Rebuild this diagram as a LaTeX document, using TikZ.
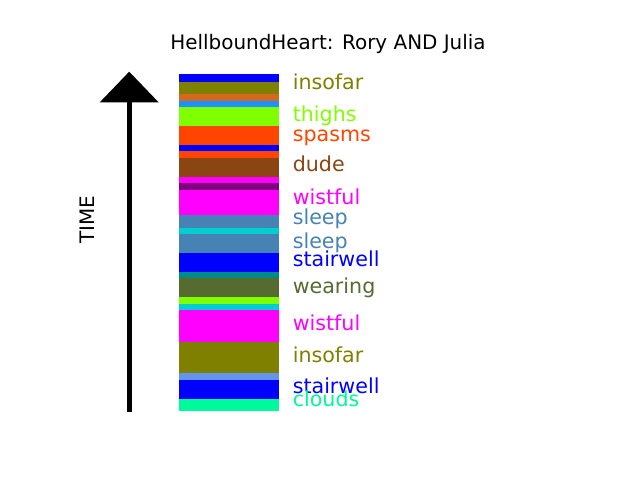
\documentclass[tikz,border=0pt]{standalone}
\usepackage{fontspec}
\setmainfont{DejaVu Sans}
\usepackage{tikz}
\usetikzlibrary{arrows.meta}
\usepackage{xcolor}
\definecolor{mblue}{HTML}{0000FF}
\definecolor{molive}{HTML}{808000}
\definecolor{mchoc}{HTML}{D2691E}
\definecolor{mdodger}{HTML}{1E90FF}
\definecolor{mchart}{HTML}{7FFF00}
\definecolor{morange}{HTML}{FF4500}
\definecolor{mbrown}{HTML}{8B4513}
\definecolor{mmagenta}{HTML}{FF00FF}
\definecolor{mpurple}{HTML}{800080}
\definecolor{msteel}{HTML}{4682B4}
\definecolor{mturq}{HTML}{00CED1}
\definecolor{mcyan}{HTML}{008B8B}
\definecolor{mdolive}{HTML}{556B2F}
\definecolor{mcorn}{HTML}{6495ED}
\definecolor{mspring}{HTML}{00FA9A}

\begin{document}
\begin{tikzpicture}[x=0.01in, y=-0.01in,
    every node/.style={inner sep=0pt, font=\fontsize{14.4}{17}\selectfont},
    lbl/.style={anchor=base west, font=\fontsize{14.9}{17}\selectfont},
    arr/.style={-{Triangle[width=15mm, length=7.8mm, line width=0pt]},
        line width=1.27mm, black}
]
    \useasboundingbox (0,0) rectangle (640,480);

    % title and axis label
    \node[anchor=base] (title) at (328,49.5) {HellboundHeart: Rory AND Julia};
    \node[anchor=base, rotate=90] (time) at (94,220) {TIME};

    % time arrow
    \coordinate (tbot) at (129.2,412.3);
    \coordinate (ttop) at (129.2,71.7);
    \draw[arr] (tbot) -- (ttop);

    % stripes, top to bottom
    \foreach \ya/\yb/\c in {74/81.7/mblue, 81.7/93.7/molive, 93.7/100.7/mchoc,
        100.7/107/mdodger, 107/125.7/mchart, 125.7/144.7/morange,
        144.7/151/mblue, 151/158/morange, 158/176.7/mbrown,
        176.7/183/mmagenta, 183/189.7/mpurple, 189.7/214.7/mmagenta,
        214.7/228/msteel, 228/234/mturq, 234/252.7/msteel,
        252.7/271.7/mblue, 271.7/277.7/mcyan, 277.7/297/mdolive,
        297/303.7/mchart, 303.7/309.7/mturq, 309.7/341.7/mmagenta,
        341.7/372.7/molive, 372.7/379.7/mcorn, 379.7/398.7/mblue,
        398.7/410.7/mspring}
        \fill[\c] (179,\ya) rectangle (279,\yb);

    % word labels
    \node[lbl, molive] (insofarA) at (292.5,89.5) {insofar};
    \node[lbl, mchart] (thighs) at (292.5,121.8) {thighs};
    \node[lbl, morange] (spasms) at (292.5,141.2) {spasms};
    \node[lbl, mbrown] (dude) at (292.5,172) {dude};
    \node[lbl, mmagenta] (wistfulA) at (292.5,204.5) {wistful};
    \node[lbl, msteel] (sleepA) at (292.5,224.5) {sleep};
    \node[lbl, msteel] (sleepB) at (292.5,249) {sleep};
    \node[lbl, mblue] (stairA) at (292.5,267) {stairwell};
    \node[lbl, mdolive] (wearing) at (292.5,293.5) {wearing};
    \node[lbl, mmagenta] (wistfulB) at (292.5,331) {wistful};
    \node[lbl, molive] (insofarB) at (292.5,363) {insofar};
    \node[lbl, mblue] (stairB) at (292.5,394) {stairwell};
    \node[lbl, mspring] (clouds) at (292.5,406.7) {clouds};
\end{tikzpicture}
\end{document}
